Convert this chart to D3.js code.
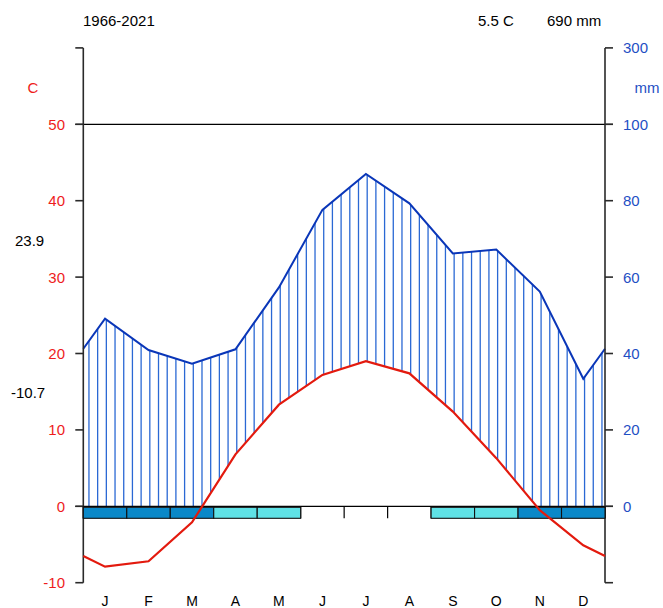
<!DOCTYPE html>
<html>
<head>
<meta charset="utf-8">
<script src="https://cdn.jsdelivr.net/npm/d3@7"></script>
<style>
  body { margin: 0; background: #fff; }
  svg { display: block; }
  text { font-family: "Liberation Sans", Arial, sans-serif; }
</style>
</head>
<body>
<svg id="chart" width="663" height="608"></svg>
<script>
// Monthly climate normals (Walter-Lieth diagram)
const months = ["J", "F", "M", "A", "M", "J", "J", "A", "S", "O", "N", "D"];
const tempMean = [-7.9, -7.2, -2.1, 6.8, 13.3, 17.2, 19.0, 17.4, 12.4, 6.3, -0.5, -5.1];
const precip = [49.1, 40.9, 37.3, 41.1, 57.3, 77.6, 87.0, 79.3, 66.2, 67.2, 56.2, 33.4];
// 2 = sure frost (mean min < 0), 1 = probable frost (absolute min < 0), 0 = none
const frost = [2, 2, 2, 1, 1, 0, 0, 0, 1, 1, 2, 2];
const tempTicks = [-10, 0, 10, 20, 30, 40, 50];
const precTicks = [0, 20, 40, 60, 80, 100, 300];
const period = "1966-2021";
const annualTemp = "5.5 C";
const annualPrec = "690 mm";
const maxWarmest = "23.9";
const minColdest = "-10.7";

const svg = d3.select("#chart");

const COL = {
  red: "#e31a0e", redText: "#ee1c1c",
  blue: "#0a36b8", blueText: "#1f4fc4", hatch: "#2a68d4",
  sureFrost: "#0a88c8", probFrost: "#5fe2e6", axis: "#2a2a2a"
};

// x in month units (0..12), y in °C-equivalent units (-10..60)
const x = d3.scaleLinear().domain([0, 12]).range([83.3, 605]);
const yT = d3.scaleLinear().domain([-10, 60]).range([582.7, 47.9]);
// precipitation: 2 mm per °C up to 100 mm, compressed 20 mm per °C above
const yP = d3.scaleLinear().domain([0, 100, 300]).range([yT(0), yT(50), yT(60)]);

// curves wrap around the year: edge value is the Dec/Jan mean
const xs = [0, ...months.map((m, i) => i + 0.5), 12];
const tEdge = (tempMean[0] + tempMean[11]) / 2;
const pEdge = (precip[0] + precip[11]) / 2;
const tPts = [tEdge, ...tempMean, tEdge].map((v, i) => [xs[i], v]);
const pPts = [pEdge, ...precip, pEdge].map((v, i) => [xs[i], v]);

function interp(pts, xv) {
  for (let i = 0; i < pts.length - 1; i++) {
    const [x0, y0] = pts[i], [x1, y1] = pts[i + 1];
    if (xv >= x0 && xv <= x1) return y0 + (y1 - y0) * (xv - x0) / (x1 - x0);
  }
  return pts[pts.length - 1][1];
}

// humid period: vertical hatching between precipitation and temperature (or 0)
const hatchX = d3.range(60).map(k => 0.13 + 0.2 * k);
svg.append("g").selectAll("line").data(hatchX).join("line")
  .attr("x1", d => x(d)).attr("x2", d => x(d))
  .attr("y1", d => yP(interp(pPts, d)))
  .attr("y2", d => yT(Math.max(0, interp(tPts, d))))
  .attr("stroke", COL.hatch).attr("stroke-width", 1.3);

// precipitation curve
svg.append("path")
  .datum(pPts)
  .attr("d", d3.line().x(d => x(d[0])).y(d => yP(d[1])))
  .attr("fill", "none").attr("stroke", COL.blue).attr("stroke-width", 2);

// reference lines at 0 and 50 °C / 100 mm
[0, 50].forEach(v => {
  svg.append("line")
    .attr("x1", x(0) - 8).attr("x2", x(12) + 8)
    .attr("y1", yT(v)).attr("y2", yT(v))
    .attr("stroke", "#000").attr("stroke-width", 1.3);
});

// axes
const axisG = svg.append("g").attr("stroke", COL.axis).attr("stroke-width", 1.6);
axisG.append("line").attr("x1", x(0)).attr("x2", x(0)).attr("y1", yT(60)).attr("y2", yT(-10));
axisG.append("line").attr("x1", x(12)).attr("x2", x(12)).attr("y1", yT(60)).attr("y2", yT(-10));
axisG.selectAll("line.tl").data([...tempTicks, 60]).join("line").attr("class", "tl")
  .attr("x1", x(0) - 8).attr("x2", x(0)).attr("y1", d => yT(d)).attr("y2", d => yT(d));
axisG.selectAll("line.tr").data(precTicks).join("line").attr("class", "tr")
  .attr("x1", x(12)).attr("x2", x(12) + 8).attr("y1", d => yP(d)).attr("y2", d => yP(d));
axisG.append("line").attr("x1", x(12)).attr("x2", x(12) + 8).attr("y1", yT(-10)).attr("y2", yT(-10));

// month boundary marks under the zero line
const barTop = yT(0) + 1, barH = 11;
svg.append("g").selectAll("line").data(d3.range(13)).join("line")
  .attr("x1", d => x(d)).attr("x2", d => x(d))
  .attr("y1", yT(0)).attr("y2", barTop + barH)
  .attr("stroke", "#000").attr("stroke-width", 1.2);

// frost bars
svg.append("g").selectAll("rect").data(frost.map((f, i) => ({ f, i })).filter(d => d.f > 0)).join("rect")
  .attr("x", d => x(d.i)).attr("width", x(1) - x(0))
  .attr("y", barTop).attr("height", barH)
  .attr("fill", d => d.f === 2 ? COL.sureFrost : COL.probFrost)
  .attr("stroke", "#111").attr("stroke-width", 1.1);

// temperature curve
svg.append("path")
  .datum(tPts)
  .attr("d", d3.line().x(d => x(d[0])).y(d => yT(d[1])))
  .attr("fill", "none").attr("stroke", COL.red).attr("stroke-width", 2.2);

// tick labels
svg.append("g").selectAll("text").data(tempTicks).join("text")
  .attr("x", 65).attr("y", d => yT(d) + 5.5)
  .attr("text-anchor", "end").attr("font-size", 15).attr("fill", COL.redText)
  .text(d => d);
svg.append("g").selectAll("text").data(precTicks).join("text")
  .attr("x", 623).attr("y", d => yP(d) + 5.5)
  .attr("font-size", 15).attr("fill", COL.blueText)
  .text(d => d);

svg.append("text").attr("x", 33).attr("y", 93).attr("text-anchor", "middle")
  .attr("font-size", 15).attr("fill", COL.redText).text("C");
svg.append("text").attr("x", 647).attr("y", 93).attr("text-anchor", "middle")
  .attr("font-size", 15).attr("fill", COL.blueText).text("mm");

// month labels
svg.append("g").selectAll("text").data(months).join("text")
  .attr("x", (d, i) => x(i + 0.5)).attr("y", 606)
  .attr("text-anchor", "middle").attr("font-size", 14).attr("fill", "#000")
  .text(d => d);

// header and extremes
const hdr = svg.append("g").attr("font-size", 15).attr("fill", "#000");
hdr.append("text").attr("x", 83).attr("y", 26).text(period);
hdr.append("text").attr("x", 478).attr("y", 26).text(annualTemp);
hdr.append("text").attr("x", 547).attr("y", 26).text(annualPrec);
hdr.append("text").attr("x", 15).attr("y", 246).text(maxWarmest);
hdr.append("text").attr("x", 11).attr("y", 398).text(minColdest);
</script>
</body>
</html>
